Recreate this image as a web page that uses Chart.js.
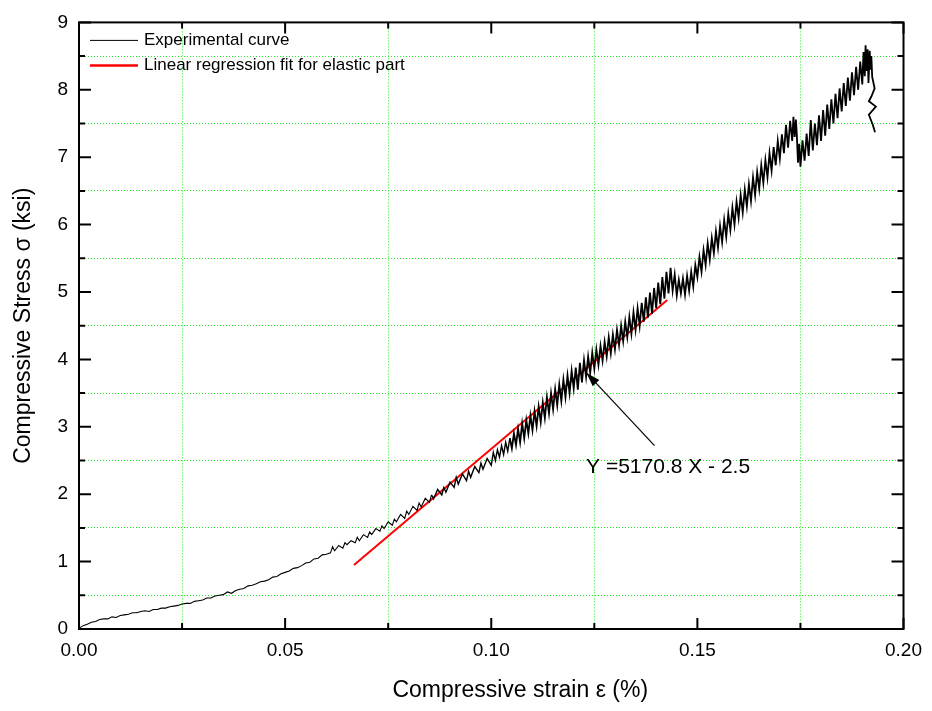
<!DOCTYPE html>
<html>
<head>
<meta charset="utf-8">
<script src="https://cdn.jsdelivr.net/npm/chart.js@4"></script>
<style>
  body { margin: 0; background: #fff; }
  #wrap { width: 932px; height: 711px; }
</style>
</head>
<body>
<div id="wrap"><canvas id="stressChart"></canvas></div>
<script>
// strain (%) , stress (ksi)
const toeRegion = [
  [0, 0.01], [0.001, 0.05], [0.002, 0.07], [0.003, 0.10], [0.004, 0.11], [0.005, 0.14], [0.006, 0.15],
  [0.007, 0.15], [0.008, 0.18], [0.009, 0.17], [0.010, 0.20], [0.011, 0.21], [0.012, 0.22], [0.013, 0.24],
  [0.014, 0.24], [0.015, 0.26], [0.016, 0.27], [0.017, 0.26], [0.018, 0.29], [0.019, 0.29], [0.020, 0.31],
  [0.021, 0.31], [0.022, 0.33], [0.023, 0.34], [0.024, 0.35], [0.025, 0.37], [0.026, 0.38], [0.027, 0.38],
  [0.028, 0.41], [0.029, 0.42], [0.030, 0.43], [0.031, 0.46], [0.032, 0.46], [0.033, 0.49], [0.034, 0.50],
  [0.035, 0.51], [0.036, 0.55], [0.037, 0.53], [0.038, 0.57], [0.039, 0.59], [0.040, 0.60], [0.041, 0.64],
  [0.042, 0.65], [0.043, 0.67], [0.044, 0.70], [0.045, 0.71], [0.046, 0.73], [0.047, 0.77], [0.048, 0.78],
  [0.049, 0.82], [0.050, 0.84], [0.051, 0.86], [0.052, 0.90], [0.053, 0.91], [0.054, 0.94], [0.055, 0.98],
  [0.056, 0.99], [0.057, 1.04], [0.058, 1.05], [0.059, 1.10], [0.060, 1.11]
];

const elasticRegion = [
  [0.061, 1.13], [0.0615, 1.22], [0.062, 1.16], [0.063, 1.24], [0.064, 1.20], [0.0645, 1.28], [0.065, 1.25],
  [0.066, 1.31], [0.067, 1.28], [0.0675, 1.36], [0.068, 1.31], [0.069, 1.40], [0.070, 1.36], [0.0705, 1.44],
  [0.071, 1.40], [0.072, 1.49], [0.073, 1.45], [0.0735, 1.53], [0.074, 1.49], [0.075, 1.59], [0.076, 1.54],
  [0.0765, 1.63], [0.077, 1.59], [0.078, 1.70], [0.079, 1.64], [0.0795, 1.75], [0.080, 1.70], [0.081, 1.82],
  [0.082, 1.76], [0.0825, 1.87], [0.083, 1.81], [0.084, 1.94], [0.085, 1.88], [0.0855, 1.99], [0.086, 1.93],
  [0.087, 2.07], [0.088, 1.99], [0.0885, 2.10], [0.089, 2.03], [0.090, 2.18], [0.091, 2.10], [0.0915, 2.25],
  [0.092, 2.15], [0.093, 2.30], [0.094, 2.20], [0.0945, 2.34], [0.095, 2.25], [0.096, 2.41], [0.097, 2.32],
  [0.0975, 2.46], [0.098, 2.37], [0.099, 2.53], [0.100, 2.43],
  [0.1005, 2.62], [0.1010, 2.50], [0.1015, 2.66], [0.1020, 2.55], [0.1025, 2.72], [0.1030, 2.59], [0.1035, 2.77],
  [0.1040, 2.64], [0.1045, 2.83], [0.1050, 2.68], [0.1055, 2.90], [0.1060, 2.73], [0.1065, 2.97], [0.1070, 2.77],
  [0.1075, 3.05], [0.1080, 2.83], [0.1085, 3.10], [0.1090, 2.90], [0.1095, 3.17], [0.1100, 2.95], [0.1105, 3.23],
  [0.1110, 3.01], [0.1115, 3.30], [0.1120, 3.07], [0.1125, 3.36], [0.1130, 3.13], [0.1135, 3.44], [0.1140, 3.20],
  [0.1145, 3.50], [0.1150, 3.26], [0.1155, 3.56], [0.1160, 3.32], [0.1165, 3.63], [0.1170, 3.38], [0.1175, 3.70],
  [0.1180, 3.44], [0.1185, 3.76], [0.1190, 3.50], [0.1195, 3.83], [0.1200, 3.57], [0.1205, 3.88], [0.1210, 3.55],
  [0.1215, 3.95], [0.1220, 3.66], [0.1225, 3.99], [0.1230, 3.74], [0.1235, 4.04], [0.1240, 3.80], [0.1245, 4.10],
  [0.1250, 3.86], [0.1255, 4.15], [0.1260, 3.92], [0.1265, 4.20], [0.1270, 3.98], [0.1275, 4.26], [0.1280, 4.04],
  [0.1285, 4.33], [0.1290, 4.09], [0.1295, 4.37], [0.1300, 4.15], [0.1305, 4.44], [0.1310, 4.21], [0.1315, 4.50],
  [0.1320, 4.27], [0.1325, 4.56], [0.1330, 4.33], [0.1335, 4.63], [0.1340, 4.38], [0.1345, 4.70], [0.1350, 4.44],
  [0.1355, 4.76], [0.1360, 4.50], [0.1365, 4.84], [0.1370, 4.56], [0.1375, 4.92], [0.1380, 4.62], [0.1385, 4.99],
  [0.1390, 4.68], [0.1395, 5.06], [0.1400, 4.76], [0.1405, 5.14], [0.1410, 4.82], [0.1415, 5.22], [0.1420, 4.90],
  [0.1425, 5.30], [0.1430, 4.98], [0.1435, 5.36]
];

const upperRegion = [
  [0.1440, 5.02], [0.1445, 5.26], [0.1450, 4.95], [0.1455, 5.18], [0.1460, 4.98], [0.1465, 5.20], [0.1470, 4.96],
  [0.1475, 5.24], [0.1480, 5.02], [0.1485, 5.30], [0.1490, 5.08], [0.1495, 5.40], [0.1500, 5.22], [0.1505, 5.52],
  [0.1510, 5.30], [0.1515, 5.62], [0.1520, 5.40], [0.1525, 5.72], [0.1530, 5.48], [0.1535, 5.80], [0.1540, 5.58],
  [0.1545, 5.90], [0.1550, 5.66], [0.1555, 5.98], [0.1560, 5.74], [0.1565, 6.07], [0.1570, 5.82], [0.1575, 6.16],
  [0.1580, 5.92], [0.1585, 6.25], [0.1590, 6.00], [0.1595, 6.34], [0.1600, 6.10], [0.1605, 6.44], [0.1610, 6.18],
  [0.1615, 6.52], [0.1620, 6.27], [0.1625, 6.60], [0.1630, 6.35], [0.1635, 6.70], [0.1640, 6.44], [0.1645, 6.78],
  [0.1650, 6.53], [0.1655, 6.88], [0.1660, 6.62], [0.1665, 6.96], [0.1670, 6.70], [0.1675, 7.06], [0.1680, 6.80],
  [0.1685, 7.15], [0.1690, 6.88], [0.1695, 7.24], [0.1700, 6.98], [0.1705, 7.34], [0.1710, 7.06], [0.1715, 7.48],
  [0.1720, 7.14], [0.1725, 7.54], [0.1730, 7.24], [0.1733, 7.60], [0.1736, 7.30], [0.1739, 7.56], [0.1741, 7.36]
];

const peakRegion = [
  [0.1744, 6.92], [0.1747, 7.20], [0.1750, 6.86], [0.1755, 7.25], [0.1760, 6.95], [0.1765, 7.35], [0.1770, 7.02],
  [0.1775, 7.55], [0.1780, 7.10], [0.1785, 7.50], [0.1790, 7.18], [0.1795, 7.62], [0.1800, 7.24], [0.1805, 7.70],
  [0.1810, 7.32], [0.1815, 7.78], [0.1820, 7.42], [0.1825, 7.86], [0.1830, 7.50], [0.1835, 7.94], [0.1840, 7.58],
  [0.1845, 8.02], [0.1850, 7.68], [0.1855, 8.10], [0.1860, 7.76], [0.1865, 8.18], [0.1870, 7.84], [0.1875, 8.26],
  [0.1880, 7.92], [0.1885, 8.34], [0.1890, 8.00], [0.1895, 8.42], [0.1900, 8.08], [0.1903, 8.56], [0.1906, 8.20],
  [0.1908, 8.66], [0.1910, 8.28], [0.1913, 8.60], [0.1915, 8.10], [0.1918, 8.58], [0.1920, 8.30], [0.1922, 8.50],
  [0.1924, 8.19], [0.1930, 8.02], [0.1922, 7.90], [0.1916, 7.83], [0.1933, 7.75], [0.1916, 7.63], [0.1925, 7.49],
  [0.1931, 7.37]
];

// end points of the regression line Y = 5170.8 X - 2.5
const fitStrain = [0.0667, 0.1427];
const fitStress = [0.95, 4.88];

const xTicks = ['0.00', '0.05', '0.10', '0.15', '0.20'];
const yTicks = ['0', '1', '2', '3', '4', '5', '6', '7', '8', '9'];

const toPoints = arr => arr.map(p => ({ x: p[0], y: p[1] }));
const experimental = [].concat(toPoints(toeRegion), toPoints(elasticRegion), toPoints(upperRegion), toPoints(peakRegion));
const fitLine = fitStrain.map((x, i) => ({ x: x, y: fitStress[i] }));

const FONT = 'Liberation Sans, Arial, Helvetica, sans-serif';
Chart.defaults.font.family = FONT;
Chart.defaults.color = '#000';

const isMajor = (v, step) => Math.round(v / step) % 2 === 0;
const gridGreen = 'rgb(40, 235, 40)';

// frame, inward ticks, legend, x title and the equation callout
const decorations = {
  id: 'decorations',
  afterDraw(chart) {
    const { ctx, chartArea: a, scales: { x, y } } = chart;
    ctx.save();
    ctx.strokeStyle = '#000';
    ctx.lineWidth = 2;
    ctx.strokeRect(a.left, a.top, a.right - a.left, a.bottom - a.top);

    ctx.beginPath();
    x.ticks.forEach(t => {
      const px = x.getPixelForValue(t.value);
      const len = isMajor(t.value, 0.025) ? 11 : 6;
      ctx.moveTo(px, a.bottom); ctx.lineTo(px, a.bottom - len);
      ctx.moveTo(px, a.top); ctx.lineTo(px, a.top + len);
    });
    y.ticks.forEach(t => {
      const py = y.getPixelForValue(t.value);
      const len = isMajor(t.value, 0.5) ? 12 : 6;
      ctx.moveTo(a.left, py); ctx.lineTo(a.left + len, py);
      ctx.moveTo(a.right, py); ctx.lineTo(a.right - len, py);
    });
    ctx.stroke();

    // legend
    ctx.font = '17px ' + FONT;
    ctx.textBaseline = 'middle';
    ctx.textAlign = 'left';
    chart.data.datasets.forEach((ds, i) => {
      const ly = a.top + 18 + i * 25;
      ctx.beginPath();
      ctx.strokeStyle = ds.borderColor;
      ctx.lineWidth = i === 0 ? 1 : 2.5;
      ctx.moveTo(a.left + 11, ly); ctx.lineTo(a.left + 59, ly);
      ctx.stroke();
      ctx.fillStyle = '#000';
      ctx.fillText(ds.label, a.left + 65, ly);
    });

    // x axis title, sits right of centre in the original
    ctx.font = '23px ' + FONT;
    ctx.textAlign = 'center';
    ctx.fillText('Compressive strain ε (%)', (a.left + a.right) / 2 + 29, 691);
    ctx.textAlign = 'left';

    // equation label with arrow
    const tipX = x.getPixelForValue(0.1231), tipY = y.getPixelForValue(3.80);
    const tailX = x.getPixelForValue(0.1396), tailY = y.getPixelForValue(2.72);
    ctx.beginPath();
    ctx.strokeStyle = '#000';
    ctx.lineWidth = 1.2;
    ctx.moveTo(tailX, tailY); ctx.lineTo(tipX, tipY);
    ctx.stroke();
    const ang = Math.atan2(tipY - tailY, tipX - tailX);
    ctx.beginPath();
    ctx.moveTo(tipX, tipY);
    ctx.lineTo(tipX - 14 * Math.cos(ang) + 4.5 * Math.sin(ang), tipY - 14 * Math.sin(ang) - 4.5 * Math.cos(ang));
    ctx.lineTo(tipX - 14 * Math.cos(ang) - 4.5 * Math.sin(ang), tipY - 14 * Math.sin(ang) + 4.5 * Math.cos(ang));
    ctx.closePath();
    ctx.fillStyle = '#000';
    ctx.fill();
    ctx.font = '21px ' + FONT;
    ctx.fillText('Y =5170.8 X - 2.5', x.getPixelForValue(0.1230), y.getPixelForValue(2.40));
    ctx.restore();
  }
};

new Chart(document.getElementById('stressChart'), {
  type: 'scatter',
  data: {
    datasets: [
      {
        label: 'Experimental curve',
        data: experimental,
        showLine: true,
        borderColor: '#000',
        borderWidth: 1,
        segment: {
          borderWidth: c => c.p0.parsed.x > 0.104 ? 1.8 : (c.p0.parsed.x > 0.085 ? 1.4 : 1.1)
        },
        pointRadius: 0,
        tension: 0
      },
      {
        label: 'Linear regression fit for elastic part',
        data: fitLine,
        showLine: true,
        borderColor: '#ff0000',
        borderWidth: 2,
        pointRadius: 0,
        tension: 0
      }
    ]
  },
  options: {
    responsive: true,
    maintainAspectRatio: false,
    animation: false,
    layout: { padding: { top: 15, right: 26, left: 0, bottom: 0 } },
    plugins: {
      legend: { display: false },
      tooltip: { enabled: false }
    },
    scales: {
      x: {
        type: 'linear',
        min: 0,
        max: 0.2,
        afterFit(s) { s.height = 82; },
        ticks: {
          stepSize: 0.025,
          autoSkip: false,
          maxRotation: 0,
          padding: 10,
          font: { size: 19 },
          callback: v => isMajor(v, 0.025) ? xTicks[Math.round(v / 0.05)] : ''
        },
        grid: {
          drawTicks: false,
          color: c => (c.tick && !isMajor(c.tick.value, 0.025)) ? gridGreen : 'rgba(0,0,0,0)'
        },
        border: { display: false, dash: [1, 2] },
        title: { display: false }
      },
      y: {
        type: 'linear',
        min: 0,
        max: 9,
        afterFit(s) { s.width = 79; },
        ticks: {
          stepSize: 0.5,
          autoSkip: false,
          padding: 11,
          font: { size: 19 },
          callback: v => isMajor(v, 0.5) ? yTicks[Math.round(v)] : ''
        },
        grid: {
          drawTicks: false,
          color: c => (c.tick && !isMajor(c.tick.value, 0.5)) ? gridGreen : 'rgba(0,0,0,0)'
        },
        border: { display: false, dash: [1, 2] },
        title: {
          display: true,
          text: 'Compressive Stress σ (ksi)',
          font: { size: 23 },
          padding: { top: 10, bottom: 0 }
        }
      }
    }
  },
  plugins: [decorations]
});
</script>
</body>
</html>
